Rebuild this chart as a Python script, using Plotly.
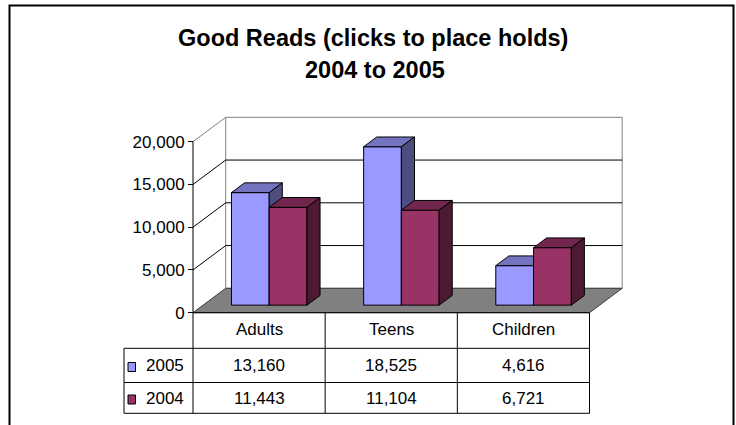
import plotly.graph_objects as go

# ---- data -------------------------------------------------------------
categories = ["Adults", "Teens", "Children"]
series_names = ["2005", "2004"]
values_2005 = [13160, 18525, 4616]
values_2004 = [11443, 11104, 6721]
y_ticks = [0, 5000, 10000, 15000, 20000]

series_values = [values_2005, values_2004]

# ---- styling ----------------------------------------------------------
FONT = "Arial, 'Liberation Sans', sans-serif"
face_colors = {
    "2005": ("#9999FF", "#7373C0", "#4D4D80"),   # front, top, side
    "2004": ("#993366", "#73264D", "#4D1A33"),
}
WALL_EDGE = "#808080"
FLOOR = "#808080"

# ---- layout geometry (pixels of the 736x425 canvas) -------------------
W, H = 736, 425
PLOT_LEFT, PLOT_RIGHT = 193.0, 589.5          # front edge of the floor
ZERO_PX, TOP_PX = 312.7, 141.7                # y pixel of 0 and of 20,000
n_cat = len(categories)
XS = (PLOT_RIGHT - PLOT_LEFT) / n_cat          # px per category
YS = (ZERO_PX - TOP_PX) / y_ticks[-1]          # px per unit value
x_lo = -0.5 - PLOT_LEFT / XS
x_hi = n_cat - 0.5 + (W - PLOT_RIGHT) / XS
y_hi = ZERO_PX / YS
y_lo = -(H - ZERO_PX) / YS

# oblique depth of the floor, and bar placement inside that depth
DX = 32.7 / XS
DY = 24.4 / YS
BAR_FRONT = 0.31
BAR_DEPTH = 0.40
GAP = 1.5                                      # gap width relative to one bar
BAR_W = 1.0 / (len(series_names) + GAP)

ymax = y_ticks[-1]
xl, xr = -0.5, n_cat - 0.5


def py(p):
    """pixel row -> paper fraction"""
    return 1 - p / H


def px(p):
    return p / W


def poly_trace(polys, fill, line_color, line_width=1):
    xs, ys = [], []
    for poly in polys:
        for (a, b) in poly + [poly[0]]:
            xs.append(a)
            ys.append(b)
        xs.append(None)
        ys.append(None)
    return go.Scatter(x=xs, y=ys, mode="lines", fill="toself", fillcolor=fill,
                      line=dict(color=line_color, width=line_width),
                      hoverinfo="skip", showlegend=False)


def line_trace(segs, color, width=1):
    xs, ys = [], []
    for (a, b), (c, d) in segs:
        xs += [a, c, None]
        ys += [b, d, None]
    return go.Scatter(x=xs, y=ys, mode="lines", line=dict(color=color, width=width),
                      hoverinfo="skip", showlegend=False)


fig = go.Figure()

# walls
back_wall = [(xl + DX, DY), (xr + DX, DY), (xr + DX, ymax + DY), (xl + DX, ymax + DY)]
left_wall = [(xl, 0), (xl, ymax), (xl + DX, ymax + DY), (xl + DX, DY)]
fig.add_trace(poly_trace([left_wall], "white", "white", 0))
fig.add_trace(poly_trace([back_wall], "white", WALL_EDGE))
fig.add_trace(line_trace([((xl, ymax), (xl + DX, ymax + DY))], WALL_EDGE))

# gridlines on back and side walls
grid = []
for v in y_ticks[1:-1]:
    grid.append(((xl + DX, v + DY), (xr + DX, v + DY)))
    grid.append(((xl, v), (xl + DX, v + DY)))
fig.add_trace(line_trace(grid, "black"))

# floor
floor = [(xl, 0), (xr, 0), (xr + DX, DY), (xl + DX, DY)]
fig.add_trace(poly_trace([floor], FLOOR, "#3a3a3a"))

# 3-D columns
ox, oy = BAR_FRONT * DX, BAR_FRONT * DY
bdx, bdy = BAR_DEPTH * DX, BAR_DEPTH * DY
for s, name in enumerate(series_names):
    fronts, tops, sides = [], [], []
    for k, v in enumerate(series_values[s]):
        x0 = k - 0.5 + GAP / 2 * BAR_W + s * BAR_W + ox
        x1 = x0 + BAR_W
        y0, y1 = oy, oy + v
        fronts.append([(x0, y0), (x1, y0), (x1, y1), (x0, y1)])
        tops.append([(x0, y1), (x1, y1), (x1 + bdx, y1 + bdy), (x0 + bdx, y1 + bdy)])
        sides.append([(x1, y0), (x1 + bdx, y0 + bdy), (x1 + bdx, y1 + bdy), (x1, y1)])
    fc, tc, sc = face_colors[name]
    fig.add_trace(poly_trace(fronts, fc, "black"))
    fig.add_trace(poly_trace(tops, tc, "black"))
    fig.add_trace(poly_trace(sides, sc, "black"))

# value axis line
fig.add_trace(line_trace([((xl, 0), (xl, ymax))], "black"))

# ---- data table under the chart ---------------------------------------
ROW_TOP = ZERO_PX
ROW_HDR = 348.3
ROW_MID = 382.5
ROW_BOT = 413.3
LEG_LEFT = 124.0

shapes = []


def hline(x0, x1, yp, xref="x"):
    shapes.append(dict(type="line", xref=xref, yref="paper", x0=x0, x1=x1,
                       y0=py(yp), y1=py(yp), line=dict(color="black", width=1)))


def vline(x, yp0, yp1, xref="x"):
    shapes.append(dict(type="line", xref=xref, yref="paper", x0=x, x1=x,
                       y0=py(yp0), y1=py(yp1), line=dict(color="black", width=1)))


x_leg = x_lo + LEG_LEFT / XS
hline(xl, xr, ROW_TOP)
for yp in (ROW_HDR, ROW_MID, ROW_BOT):
    hline(x_leg, xr, yp)
for b in range(n_cat + 1):
    vline(b - 0.5, ROW_TOP, ROW_BOT)
vline(x_leg, ROW_HDR, ROW_BOT)

annotations = []
TXT = dict(family=FONT, size=17, color="black")
for k, c in enumerate(categories):
    annotations.append(dict(x=k, y=py(329.5), xref="x", yref="paper", text=c,
                            showarrow=False, font=TXT, xanchor="center", yanchor="middle"))
row_centers = [365.5, 398.0]
for s, name in enumerate(series_names):
    for k, v in enumerate(series_values[s]):
        annotations.append(dict(x=k, y=py(row_centers[s]), xref="x", yref="paper",
                                text=f"{v:,}", showarrow=False, font=TXT,
                                xanchor="center", yanchor="middle"))
    annotations.append(dict(x=px(143.5), y=py(row_centers[s]), xref="paper", yref="paper",
                            text=name, showarrow=False, font=TXT,
                            xanchor="left", yanchor="middle"))
    # legend key
    shapes.append(dict(type="rect", xref="paper", yref="paper",
                       x0=px(128), x1=px(135.5), y0=py(row_centers[s] + 6),
                       y1=py(row_centers[s] - 3), fillcolor=face_colors[name][0],
                       line=dict(color="black", width=1)))

# title
TITLE = dict(family=FONT, size=23.5, color="black")
annotations.append(dict(x=px(372.5), y=py(38.5), xref="paper", yref="paper",
                        text="<b>Good Reads (clicks to place holds)</b>", showarrow=False,
                        font=TITLE, xanchor="center", yanchor="middle"))
annotations.append(dict(x=px(374.5), y=py(70), xref="paper", yref="paper",
                        text="<b>2004 to 2005</b>", showarrow=False,
                        font=TITLE, xanchor="center", yanchor="middle"))

# outer frame
shapes.append(dict(type="rect", xref="paper", yref="paper", x0=px(9.5), x1=px(733.5),
                   y0=py(5.5), y1=py(440), line=dict(color="black", width=2),
                   fillcolor="rgba(0,0,0,0)"))

fig.update_layout(
    width=W, height=H,
    margin=dict(l=0, r=0, t=0, b=0),
    paper_bgcolor="white", plot_bgcolor="white",
    showlegend=False,
    xaxis=dict(range=[x_lo, x_hi], visible=False, fixedrange=True),
    yaxis=dict(range=[y_lo, y_hi], anchor="free", position=PLOT_LEFT / W,
               tickvals=y_ticks, tickformat=",", ticks="outside", ticklen=5,
               tickcolor="black", tickwidth=1, showgrid=False, zeroline=False,
               showline=False, tickfont=TXT, fixedrange=True),
    shapes=shapes,
    annotations=annotations,
)

fig.write_html("out.html", config={"displayModeBar": False})
